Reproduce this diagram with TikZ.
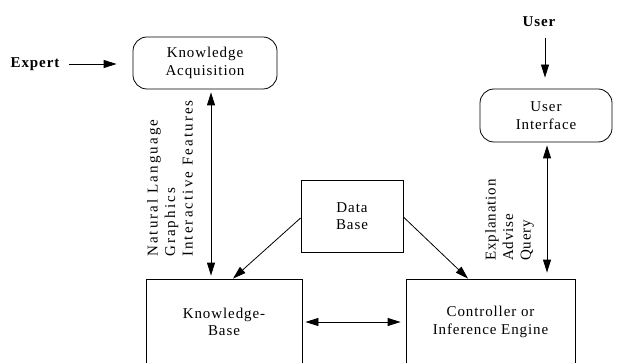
\documentclass[tikz,border=0pt]{standalone}
\usepackage{fontspec}
\setmainfont{Liberation Serif}[LetterSpace=6]
\usetikzlibrary{arrows.meta}
\tikzset{
  box/.style={draw, line width=0.8pt, align=center, inner sep=0pt},
  rbox/.style={box, rounded corners=14pt},
  lbl/.style={font=\fontsize{15}{17.5}\selectfont},
  bold/.style={font=\fontsize{15}{17}\selectfont\bfseries},
  side/.style={rotate=90, anchor=south west, align=left, inner sep=0pt, font=\fontsize{15}{17.5}\selectfont},
  conn/.style={line width=0.8pt, -{Triangle[length=13pt,width=8pt]}},
  dconn/.style={line width=0.8pt, {Triangle[length=13pt,width=8pt]}-{Triangle[length=13pt,width=8pt]}}
}
\begin{document}
\begin{tikzpicture}[x=1pt,y=1pt]
\useasboundingbox[fill=white] (0,-363) rectangle (617,0);
% nodes
\node[rbox, lbl, minimum width=144pt, minimum height=52pt] (ka) at (205,-63) {Knowledge\\Acquisition};
\node[rbox, lbl, minimum width=132pt, minimum height=53pt] (ui) at (546,-115.5) {User\\Interface};
\node[box, lbl, minimum width=102pt, minimum height=72pt] (db) at (352,-216) {Data\\Base};
\node[box, lbl, minimum width=156pt, minimum height=86pt] (kb) at (224,-322) {Knowledge-\\Base};
\node[box, lbl, minimum width=169pt, minimum height=86pt] (ctl) at (490.5,-322) {Controller or\\Inference Engine};
\node[bold] (expert) at (35,-64) {Expert};
\node[bold] (user) at (539,-22) {User};
\node[side, font=\fontsize{15}{17.5}\selectfont\addfontfeatures{LetterSpace=14}] (nl) at (193,-257) {Natural Language\\Graphics\\Interactive Features};
\node[side] (ex) at (534,-261) {Explanation\\Advise\\Query};
% connectors
\draw[conn, shorten <=6pt, shorten >=16pt] (expert.east) -- (expert.east -| ka.west);
\draw[conn, shorten <=7pt, shorten >=11pt] ([xshift=6pt]user.south) -- ([xshift=6pt]user.south |- ui.north);
\draw[dconn, shorten <=3pt, shorten >=3pt] ([xshift=6pt]ka.south) -- ([xshift=6pt]ka.south |- kb.north);
\draw[dconn, shorten <=3pt, shorten >=6pt] ([xshift=1pt]ui.south) -- ([xshift=1pt]ui.south |- ctl.north);
\draw[conn] ([yshift=-2pt]db.west) -- ([xshift=9pt]kb.north);
\draw[conn] ([yshift=-1pt]db.east) -- ([xshift=-22.5pt]ctl.north);
\draw[dconn, shorten <=3pt, shorten >=5pt] (kb.east) -- (ctl.west);
\end{tikzpicture}
\end{document}
